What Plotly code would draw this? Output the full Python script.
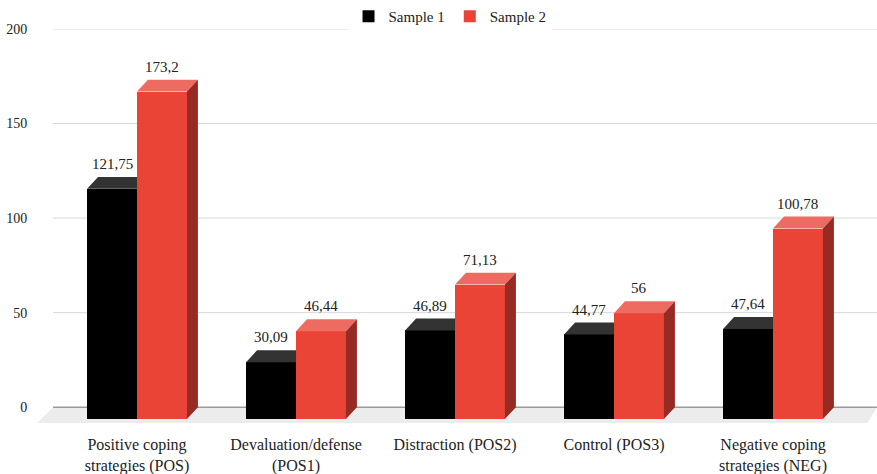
import plotly.graph_objects as go

categories = ["Positive coping<br>strategies (POS)", "Devaluation/defense<br>(POS1)",
              "Distraction (POS2)", "Control (POS3)", "Negative coping<br>strategies (NEG)"]
sample1 = [121.75, 30.09, 46.89, 44.77, 47.64]
sample2 = [173.2, 46.44, 71.13, 56, 100.78]
series_names = ["Sample 1", "Sample 2"]
y_ticks = [0, 50, 100, 150, 200]

# style / geometry
W = 0.314          # bar width (category units)
DX = 0.069         # depth offset in x (category units)
DY = 6.3           # depth offset in y (value units)
X_MIN, X_MAX = -0.629, 4.654
WALL_LEFT = -0.528
Y_MIN, Y_MAX = -8.9, 200
FONT = "'Liberation Serif', 'DejaVu Serif', serif"
TXT = "#222222"

front_cols = ["#000000", "#E94436"]
top_cols = ["#333333", "#EE6B61"]
side_cols = ["#1a1a1a", "#982A24"]

def fmt(v):
    return f"{v:g}".replace(".", ",")

xs = list(range(len(categories)))
fig = go.Figure()

for k, (vals, name) in enumerate(zip([sample1, sample2], series_names)):
    fig.add_trace(go.Bar(
        x=xs, y=vals, base=[-DY] * len(vals), width=[W] * len(vals),
        offset=[-W if k == 0 else 0] * len(vals),
        name=name, marker=dict(color=front_cols[k], line=dict(width=0)),
        hoverinfo="skip",
    ))

def poly_trace(polys, color):
    px, py = [], []
    for p in polys:
        for (a, b) in p + [p[0]]:
            px.append(a); py.append(b)
        px.append(None); py.append(None)
    return go.Scatter(x=px, y=py, mode="lines", fill="toself", fillcolor=color,
                      line=dict(width=0, color=color), showlegend=False, hoverinfo="skip")

tops1 = []
for i, (v1, v2) in enumerate(zip(sample1, sample2)):
    x0, x1 = i - W, i
    if v2 - DY >= v1:
        tops1.append([(x0, v1 - DY), (x1, v1 - DY), (x1, v1), (x0 + DX, v1)])
    else:
        tops1.append([(x0, v1 - DY), (x1, v1 - DY), (x1 + DX, v1), (x0 + DX, v1)])
fig.add_trace(poly_trace(tops1, top_cols[0]))

tops2, sides2 = [], []
for i, v in enumerate(sample2):
    x0, x1 = i, i + W
    tops2.append([(x0, v - DY), (x1, v - DY), (x1 + DX, v), (x0 + DX, v)])
    sides2.append([(x1, -DY), (x1 + DX, 0), (x1 + DX, v), (x1, v - DY)])
fig.add_trace(poly_trace(tops2, top_cols[1]))
fig.add_trace(poly_trace(sides2, side_cols[1]))

for k, vals in enumerate([sample1, sample2]):
    for i, v in enumerate(vals):
        cx = i - W / 2 if k == 0 else i + W / 2
        fig.add_annotation(x=cx, y=v, xref="x", yref="y", text=fmt(v), showarrow=False,
                           yanchor="bottom", yshift=3,
                           font=dict(family=FONT, size=15, color=TXT))

floor_front = -8.4
fig.add_shape(type="path", xref="x", yref="y", layer="below",
              path=f"M{WALL_LEFT},0 L{X_MAX},0 L{X_MAX - 0.06},{floor_front} L{WALL_LEFT - 0.1},{floor_front} Z",
              fillcolor="#ECECEC", line=dict(width=0))
for t in y_ticks:
    fig.add_shape(type="line", xref="x", yref="y", layer="below",
                  x0=WALL_LEFT, x1=X_MAX, y0=t, y1=t,
                  line=dict(color="#6e6e6e" if t == 0 else "#D9D9D9", width=1))

fig.update_layout(
    width=877, height=474,
    margin=dict(l=37, r=0, t=26, b=50),
    paper_bgcolor="white", plot_bgcolor="white",
    barmode="overlay", bargap=0,
    font=dict(family=FONT, size=15, color=TXT),
    showlegend=True,
    legend=dict(orientation="h", x=0.4917, xanchor="center", y=1.032, yanchor="middle",
                font=dict(family=FONT, size=15, color=TXT), traceorder="normal"),
    xaxis=dict(range=[X_MIN, X_MAX], tickvals=xs, ticktext=categories,
               showgrid=False, zeroline=False, showline=False,
               ticks="outside", ticklen=6, tickcolor="rgba(0,0,0,0)",
               tickangle=0, automargin=False,
               tickfont=dict(family=FONT, size=16, color=TXT)),
    yaxis=dict(range=[Y_MIN, Y_MAX], tickvals=y_ticks,
               showgrid=False, zeroline=False, showline=False,
               ticks="outside", ticklen=6, tickcolor="rgba(0,0,0,0)",
               automargin=False,
               tickfont=dict(family=FONT, size=14, color=TXT)),
)

fig.write_html("out.html")
